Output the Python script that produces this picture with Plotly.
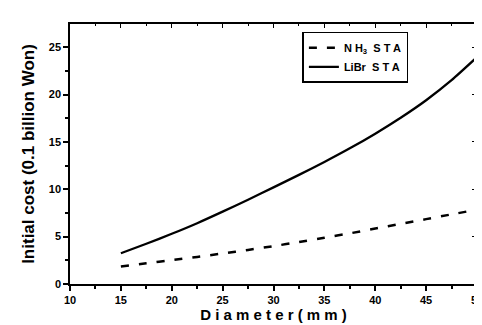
import plotly.graph_objects as go

diameter = [15, 17.5, 20, 22.5, 25, 27.5, 30, 32.5, 35, 37.5, 40, 42.5, 45, 47.5, 50]
nh3_cost = [1.85, 2.18, 2.52, 2.86, 3.22, 3.6, 4.0, 4.43, 4.88, 5.35, 5.85, 6.35, 6.85, 7.35, 7.85]
libr_cost = [3.25, 4.25, 5.3, 6.42, 7.64, 8.9, 10.2, 11.52, 12.88, 14.32, 15.87, 17.55, 19.4, 21.52, 23.95]

x_ticks = [10, 15, 20, 25, 30, 35, 40, 45, 50]
y_ticks = [0, 5, 10, 15, 20, 25]

font_family = "Liberation Sans, Arial, sans-serif"

fig = go.Figure()
fig.add_trace(go.Scatter(
    x=diameter, y=nh3_cost, mode="lines", name="<b>N H<sub>3</sub>  S T A</b>",
    line=dict(color="black", width=2.5, dash="8px,10px", shape="spline", smoothing=0.6),
))
fig.add_trace(go.Scatter(
    x=diameter, y=libr_cost, mode="lines", name="<b>LiBr  S T A</b>",
    line=dict(color="black", width=2.3, shape="spline", smoothing=0.6),
))

axis_common = dict(
    showgrid=False, zeroline=False, showline=True, linecolor="black", linewidth=1.5,
    tickcolor="black", tickwidth=1.5,
    tickfont=dict(family=font_family, size=11, color="black", weight="bold"),
)

fig.update_layout(
    width=482, height=325,
    margin=dict(l=62, r=7, t=16, b=49),
    paper_bgcolor="white", plot_bgcolor="white",
    font=dict(family=font_family, color="black"),
    xaxis=dict(
        range=[10, 50], tickvals=x_ticks, ticks="outside", ticklen=5,
        minor=dict(ticks="outside", ticklen=3, dtick=2.5, tickcolor="black"),
        title=dict(text="<b>D i a m e t e r ( m m )</b>", font=dict(size=15, family=font_family), standoff=1),
        **axis_common,
    ),
    yaxis=dict(
        range=[0, 27.45], tickvals=y_ticks, ticks="outside", ticklen=5,
        minor=dict(ticks="outside", ticklen=3, dtick=2.5, tickcolor="black"),
        title=dict(text="<b>Initial cost (0.1 billion Won)</b>", font=dict(size=17, family=font_family), standoff=10),
        **axis_common,
    ),
    xaxis2=dict(
        overlaying="x", side="top", range=[10, 50], tickvals=x_ticks, ticks="inside", ticklen=4,
        minor=dict(ticks="inside", ticklen=2, dtick=2.5, tickcolor="black"),
        showticklabels=False, showgrid=False, zeroline=False, showline=True,
        linecolor="black", linewidth=1.5, tickcolor="black",
    ),
    yaxis2=dict(
        overlaying="y", side="right", range=[0, 27.45], tickvals=y_ticks, ticks="inside", ticklen=5,
        minor=dict(ticks="inside", ticklen=3, dtick=2.5, tickcolor="black"),
        showticklabels=False, showgrid=False, zeroline=False, showline=True,
        linecolor="black", linewidth=1.5, tickcolor="black",
    ),
    legend=dict(
        x=0.571, y=0.97, xanchor="left", yanchor="top",
        bordercolor="black", borderwidth=1.5, bgcolor="white",
        font=dict(family=font_family, size=11, color="black"),
        tracegroupgap=0, itemwidth=30,
    ),
    showlegend=True,
)

fig.add_trace(go.Scatter(x=[None], y=[None], xaxis="x2", yaxis="y2", showlegend=False, hoverinfo="skip"))

fig.write_html("out.html")
